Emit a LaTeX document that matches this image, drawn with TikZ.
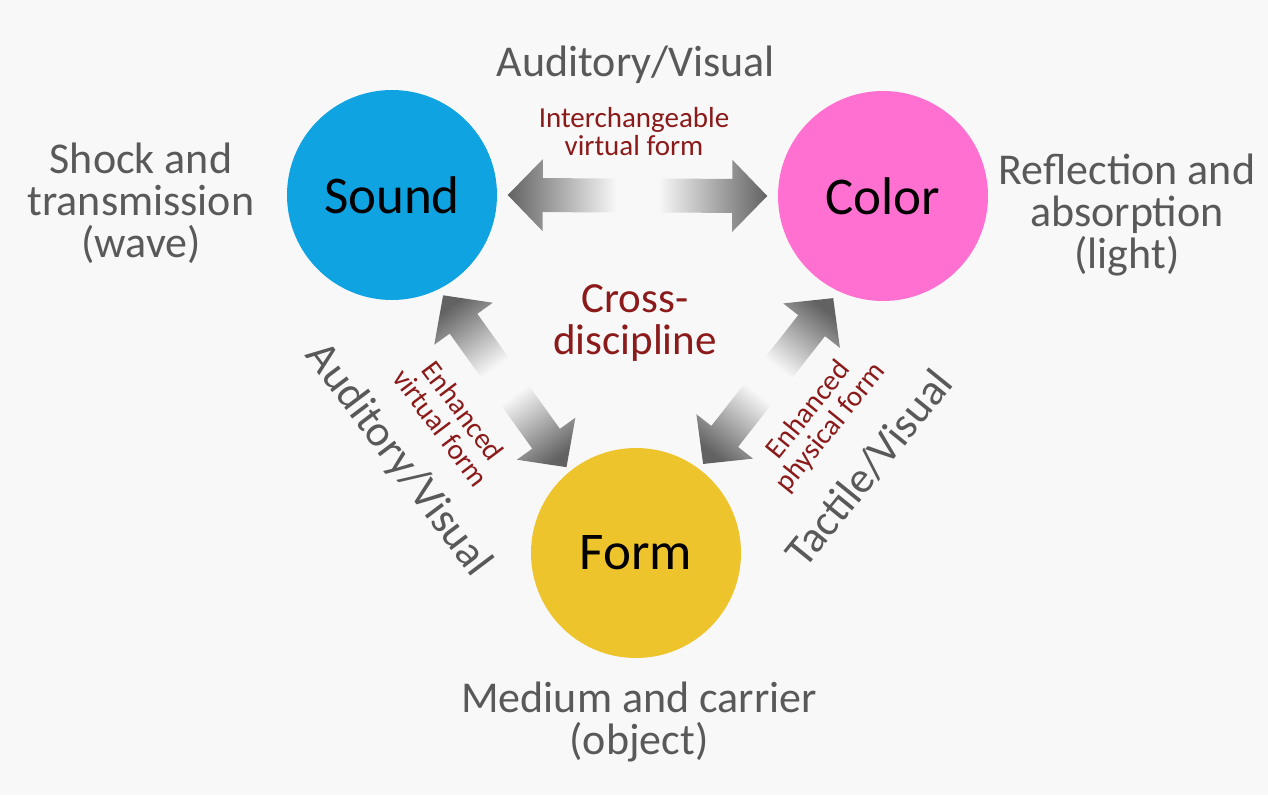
\documentclass[tikz,border=0pt]{standalone}
\usepackage{fontspec}
\setmainfont{Carlito}
\usetikzlibrary{calc}

\definecolor{soundblue}{RGB}{16,163,225}
\definecolor{colorpink}{RGB}{255,112,208}
\definecolor{formyellow}{RGB}{238,196,44}
\definecolor{txtgray}{RGB}{89,89,89}
\definecolor{txtred}{RGB}{139,26,26}
\definecolor{arrowdark}{RGB}{98,98,98}
\definecolor{bgcol}{RGB}{248,248,248}

% dark at the top, fading out to the background
\pgfdeclareverticalshading{arrowfade}{100bp}{color(0bp)=(bgcol); color(25bp)=(bgcol);
  color(33bp)=(bgcol); color(75bp)=(arrowdark); color(100bp)=(arrowdark)}

% half of a fading double arrow: tip, far tip, shading angle
\newcommand{\halfarrow}[3]{%
  \coordinate (hb) at ($(#1)!35pt!(#2)$);
  \coordinate (he) at ($(#1)!0.5!(#2)$);
  \shade[shading=arrowfade, shading angle=#3]
    (#1) -- ($(hb)!36pt!90:(#2)$) -- ($(hb)!17pt!90:(#2)$)
    -- ($(he)!17pt!90:(#2)$) -- ($(he)!17pt!-90:(#2)$)
    -- ($(hb)!17pt!-90:(#2)$) -- ($(hb)!36pt!-90:(#2)$) -- cycle;
}

\tikzset{
  ball/.style={circle, minimum size=210pt, inner sep=0pt, text=black,
    font=\fontsize{53}{53}\selectfont},
  graytxt/.style={text=txtgray, align=center, font=\fontsize{44}{42}\selectfont},
  redtxt/.style={text=txtred, align=center, font=\fontsize{29}{28}\selectfont},
}

\begin{document}
\begin{tikzpicture}[x=1pt, y=-1pt]
        \fill[bgcol] (0,0) rectangle (1268,795);
        \useasboundingbox (0,0) rectangle (1268,795);

        \node[ball, fill=soundblue] (sound) at (392,195) {Sound};
        \node[ball, fill=colorpink] (color) at (883,196) {Color};
        \node[ball, fill=formyellow] (form) at (636,553) {Form};

        \coordinate (sc) at ($(sound.center)!1.1!(sound.east)$);
        \coordinate (cs) at ($(color.center)!1.1!(color.west)$);
        \coordinate (sf) at ($(sound.center)!1.07!(sound.-63)$);
        \coordinate (fs) at ($(form.center)!1.05!(form.129)$);
        \coordinate (cf) at ($(color.center)!1.08!(color.-116)$);
        \coordinate (fc) at ($(form.center)!1.06!(form.53)$);

        \halfarrow{sc}{cs}{90}
        \halfarrow{cs}{sc}{-90}
        \halfarrow{sf}{fs}{35.7}
        \halfarrow{fs}{sf}{-144.3}
        \halfarrow{cf}{fc}{-38.1}
        \halfarrow{fc}{cf}{141.9}

        \node[graytxt] (avtop) at (636,65) {Auditory/Visual};
        \node[graytxt] (wave) at (141,203) {Shock and\\transmission\\(wave)};
        \node[graytxt] (light) at (1127,215) {Reflection and\\absorption\\(light)};
        \node[graytxt] (object) at (639,722) {Medium and carrier\\(object)};
        \node[graytxt, rotate=-53] (avleft) at (398,460) {Auditory/Visual};
        \node[graytxt, rotate=51] (tvright) at (869,468) {Tactile/Visual};

        \node[redtxt] (swap) at (634,132) {Interchangeable\\virtual form};
        \node[redtxt, font=\fontsize{43}{42}\selectfont] (cross) at (635,323) {Cross-\\discipline};
        \node[redtxt, rotate=-53] (virt) at (452,419) {Enhanced\\virtual form};
        \node[redtxt, rotate=51] (phys) at (820,419) {Enhanced\\physical form};
\end{tikzpicture}
\end{document}
